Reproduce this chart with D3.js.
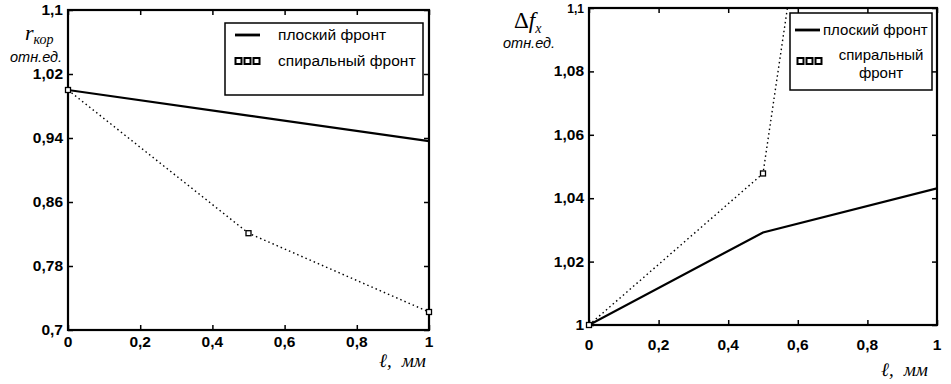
<!DOCTYPE html>
<html>
<head>
<meta charset="utf-8">
<script src="https://cdn.jsdelivr.net/npm/d3@7"></script>
<style>
  body { margin: 0; background: #fff; }
  svg { display: block; }
  text { font-family: "Liberation Sans", Arial, sans-serif; fill: #000; }
</style>
</head>
<body>
<div id="chart"></div>
<script>
// length along the sample, mm
const lengthMm = [0, 0.5, 1];

// left panel: correlation coefficient r_кор
const rFlat = [1.0, 0.968, 0.936];
const rSpiral = [1.0, 0.821, 0.7225];
const rTicks = [0.7, 0.78, 0.86, 0.94, 1.02, 1.1];

// right panel: Δf_x
const dfFlat = [1.0, 1.0292, 1.0431];
const dfSpiral = [1.0, 1.0478, 1.42];
const dfTicks = [1.0, 1.02, 1.04, 1.06, 1.08, 1.1];

const xTicks = [0, 0.2, 0.4, 0.6, 0.8, 1];
const legendNames = ['плоский фронт', 'спиральный фронт'];

const fmt = d => String(+d.toFixed(2)).replace('.', ',');
const serif = '"Liberation Serif", "Times New Roman", serif';

const svg = d3.select('#chart').append('svg')
  .attr('width', 951).attr('height', 384);

function panel(opts) {
  const { left, right, top, bottom, yDomain, yTicks, flat, spiral, id } = opts;
  const x = d3.scaleLinear().domain([0, 1]).range([left, right]);
  const y = d3.scaleLinear().domain(yDomain).range([bottom, top]);
  const g = svg.append('g');

  g.append('clipPath').attr('id', id)
    .append('rect').attr('x', left).attr('y', top)
    .attr('width', right - left).attr('height', bottom - top);

  // inward ticks on all four sides (labels only bottom/left)
  g.append('g').attr('transform', `translate(0,${bottom})`)
    .call(d3.axisTop(x).tickValues(xTicks).tickSize(5).tickFormat(''))
    .call(a => a.select('.domain').remove());
  g.append('g').attr('transform', `translate(0,${top})`)
    .call(d3.axisBottom(x).tickValues(xTicks).tickSize(5).tickFormat(''))
    .call(a => a.select('.domain').remove());
  g.append('g').attr('transform', `translate(${left},0)`)
    .call(d3.axisRight(y).tickValues(yTicks).tickSize(5).tickFormat(''))
    .call(a => a.select('.domain').remove());
  g.append('g').attr('transform', `translate(${right},0)`)
    .call(d3.axisLeft(y).tickValues(yTicks).tickSize(5).tickFormat(''))
    .call(a => a.select('.domain').remove());
  g.selectAll('.tick line').attr('stroke', '#000').attr('stroke-width', 1.5);

  // tick labels
  g.selectAll('.xlab').data(xTicks).join('text')
    .attr('x', d => x(d)).attr('y', opts.xLabelY)
    .attr('text-anchor', 'middle').attr('font-size', 15.5).attr('font-weight', 'bold')
    .text(fmt);
  g.selectAll('.ylab').data(yTicks).join('text')
    .attr('x', left - 5).attr('y', d => y(d) + 5)
    .attr('text-anchor', 'end')
    .attr('font-size', d => (opts.smallTop && d === yTicks[yTicks.length - 1]) ? 12 : 15.5)
    .attr('font-weight', 'bold')
    .text(fmt);

  const line = d3.line().x((d, i) => x(lengthMm[i])).y(d => y(d));
  const lines = g.append('g').attr('clip-path', `url(#${id})`);
  lines.append('path').datum(spiral).attr('d', line)
    .attr('fill', 'none').attr('stroke', '#000').attr('stroke-width', 1.4)
    .attr('stroke-dasharray', '1.5,3');
  lines.append('path').datum(flat).attr('d', line)
    .attr('fill', 'none').attr('stroke', '#000').attr('stroke-width', 2.2);

  // frame
  g.append('rect').attr('x', left).attr('y', top)
    .attr('width', right - left).attr('height', bottom - top)
    .attr('fill', 'none').attr('stroke', '#000').attr('stroke-width', 2.2);

  // markers of the spiral series (only those inside the y range)
  const pts = spiral.map((v, i) => [lengthMm[i], v])
    .filter(p => p[1] >= yDomain[0] && p[1] <= yDomain[1]);
  g.selectAll('.mk').data(pts).join('rect')
    .attr('x', d => x(d[0]) - 2.5).attr('y', d => y(d[1]) - 2.5)
    .attr('width', 5).attr('height', 5)
    .attr('fill', '#fff').attr('stroke', '#000').attr('stroke-width', 1.3);

  // x axis title
  const xt = g.append('text').attr('x', opts.xTitleX).attr('y', opts.xTitleY)
    .attr('text-anchor', 'end').attr('font-size', 19).attr('font-style', 'italic')
    .style('font-family', serif);
  xt.append('tspan').text('ℓ,');
  xt.append('tspan').attr('dx', 10).text('мм');

  return { g, x, y };
}

panel({
  id: 'clipL', left: 68, right: 429, top: 10, bottom: 330,
  yDomain: [0.7, 1.1], yTicks: rTicks, flat: rFlat, spiral: rSpiral,
  xLabelY: 347, xTitleX: 426, xTitleY: 367
});
panel({
  id: 'clipR', left: 589, right: 937, top: 8, bottom: 325, smallTop: true,
  yDomain: [1.0, 1.1], yTicks: dfTicks, flat: dfFlat, spiral: dfSpiral,
  xLabelY: 350, xTitleX: 928, xTitleY: 376
});

// y axis titles
const rt = svg.append('text').attr('x', 25).attr('y', 40)
  .style('font-family', serif).attr('font-style', 'italic');
rt.append('tspan').attr('font-size', 22).text('r');
rt.append('tspan').attr('font-size', 14).attr('dy', 4).text('кор');
svg.append('text').attr('x', 10).attr('y', 62).attr('font-size', 14.5)
  .attr('font-style', 'italic').text('отн.ед.');

const ft = svg.append('text').attr('x', 514).attr('y', 28).style('font-family', serif);
ft.append('tspan').attr('font-size', 23).text('Δ');
ft.append('tspan').attr('font-size', 23).attr('font-style', 'italic').text('f');
ft.append('tspan').attr('font-size', 14).attr('font-style', 'italic').attr('dy', 5).text('x');
svg.append('text').attr('x', 503).attr('y', 48).attr('font-size', 14.5)
  .attr('font-style', 'italic').text('отн.ед.');

// legends
function legendSample(g, kind, x0, x1, cy) {
  if (kind === 0) {
    g.append('line').attr('x1', x0).attr('x2', x1).attr('y1', cy).attr('y2', cy)
      .attr('stroke', '#000').attr('stroke-width', 2.8);
  } else {
    const pts = d3.range(3).map(i => x0 + 3.5 + i * (x1 - x0 - 7) / 2);
    g.selectAll(null).data(pts).join('rect')
      .attr('x', d => d - 3).attr('y', cy - 3).attr('width', 6).attr('height', 6)
      .attr('fill', '#fff').attr('stroke', '#000').attr('stroke-width', 2);
  }
}

const lg = svg.append('g');
lg.append('rect').attr('x', 225).attr('y', 23).attr('width', 198).attr('height', 72)
  .attr('fill', '#fff').attr('stroke', '#000').attr('stroke-width', 1.5);
legendNames.forEach((name, i) => {
  const cy = 35 + i * 26;
  legendSample(lg, i, 235, 260, cy);
  lg.append('text').attr('x', 278).attr('y', cy + 5).attr('font-size', 15.5).text(name);
});

const rg = svg.append('g');
rg.append('rect').attr('x', 790).attr('y', 13).attr('width', 142).attr('height', 77)
  .attr('fill', '#fff').attr('stroke', '#000').attr('stroke-width', 1.5);
legendSample(rg, 0, 795, 820, 30);
rg.append('text').attr('x', 823).attr('y', 35).attr('font-size', 15).text(legendNames[0]);
legendSample(rg, 1, 797, 822, 61);
legendNames[1].split(' ').forEach((w, i) => {
  rg.append('text').attr('x', 881).attr('y', 60 + i * 18).attr('text-anchor', 'middle')
    .attr('font-size', 15).text(w);
});
</script>
</body>
</html>
